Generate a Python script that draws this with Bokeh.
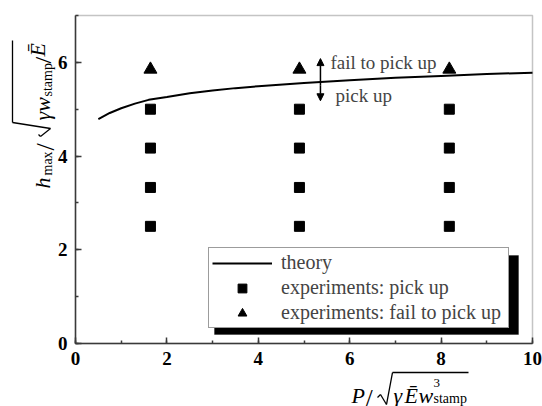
from bokeh.plotting import figure
from bokeh.models import (Label, Arrow, NormalHead, Legend, LegendItem, BoxAnnotation,
                          SingleIntervalTicker, Range1d)
from bokeh.embed import file_html
from bokeh.resources import INLINE
import math

# ---------------- data ----------------
theory_x = [0.5, 0.75, 1.0, 1.3, 1.6, 2.0, 2.5, 3.0, 3.5, 4.0, 5.0, 6.0, 7.0, 8.0, 9.0, 10.0]
theory_y = [4.79, 4.92, 5.02, 5.12, 5.20, 5.26, 5.34, 5.40, 5.45, 5.49, 5.56, 5.62, 5.67, 5.71, 5.75, 5.78]

exp_x = [1.64, 4.90, 8.18]
pick_levels = [2.50, 3.33, 4.17, 5.00]
fail_level = [5.85]

pick_x = [x for x in exp_x for _ in pick_levels]
pick_y = [y for _ in exp_x for y in pick_levels]
fail_x = list(exp_x)
fail_y = [fail_level[0] for _ in exp_x]

x_ticks = [0, 2, 4, 6, 8, 10]
y_ticks = [0, 2, 4, 6]

legend_labels = ["theory", "experiments: pick up", "experiments: fail to pick up"]

# ---------------- layout ----------------
W, H = 542, 406
FL, FR, FT, FB = 75, 532, 15, 343          # where the 0..10 x 0..7 data box sits
XMIN, XMAX, YMIN, YMAX = 0, 10, 0, 7


def px_x(px):
    return XMIN + (px - FL) / (FR - FL) * (XMAX - XMIN)


def px_y(py):
    return YMIN + (FB - py) / (FB - FT) * (YMAX - YMIN)


p = figure(width=W, height=H,
           x_range=Range1d(px_x(0), px_x(W)), y_range=Range1d(px_y(H), px_y(0)),
           output_backend="svg", toolbar_location=None,
           min_border=0, min_border_left=0, min_border_right=0,
           min_border_top=0, min_border_bottom=0)
p.background_fill_color = "white"
p.border_fill_color = "white"
p.grid.visible = False
p.outline_line_color = None

AX = "#3a3a3a"
p.xaxis.fixed_location = YMIN
p.yaxis.fixed_location = XMIN
p.xaxis.bounds = (XMIN, XMAX)
p.yaxis.bounds = (YMIN, YMAX)
for ax in (p.xaxis[0], p.yaxis[0]):
    ax.ticker = SingleIntervalTicker(interval=2, num_minor_ticks=2)
    ax.axis_line_color = AX
    ax.axis_line_width = 1.5
    ax.major_tick_line_color = AX
    ax.minor_tick_line_color = AX
    ax.major_tick_line_width = 1.5
    ax.minor_tick_line_width = 1.5
    ax.major_tick_in = 6
    ax.major_tick_out = 0
    ax.minor_tick_in = 3
    ax.minor_tick_out = 0
    ax.major_label_text_font = "Liberation Serif"
    ax.major_label_text_font_style = "bold"
    ax.major_label_text_font_size = "19px"
    ax.major_label_text_color = "black"
p.xaxis.major_label_standoff = 8
p.yaxis.major_label_standoff = 8

# box around the data area (top and right edges)
p.add_layout(BoxAnnotation(left=XMIN, right=XMAX, bottom=YMIN, top=YMAX,
                           fill_alpha=0, line_color=AX, line_width=1.5, level="underlay"))

# ---------------- data marks ----------------
r_theory = p.line(theory_x, theory_y, line_color="black", line_width=2)
r_pick = p.scatter(pick_x, pick_y, marker="square", size=10, fill_color="black", line_color="black")
r_fail = p.scatter(fail_x, fail_y, marker="triangle", size=13, fill_color="black", line_color="black")

# ---------------- annotation: double arrow ----------------
arrow_x = 5.36
for y_tip in (6.08, 5.18):
    p.add_layout(Arrow(x_start=arrow_x, y_start=5.5, x_end=arrow_x, y_end=y_tip,
                       start=None, end=NormalHead(size=7, fill_color="black", line_color="black"),
                       line_width=1.5, line_color="black"))
p.add_layout(Label(x=5.58, y=6.0, text="fail to pick up", text_font="Liberation Serif",
                   text_font_size="19px", text_baseline="middle", text_align="left"))
p.add_layout(Label(x=5.69, y=5.29, text="pick up", text_font="Liberation Serif",
                   text_font_size="19px", text_baseline="middle", text_align="left"))

# ---------------- legend with shadow ----------------
SH = 6
LG_L, LG_R, LG_T, LG_B = 208, 512, 249, 328
p.add_layout(BoxAnnotation(left=px_x(LG_L + SH), right=px_x(LG_R + SH),
                           top=px_y(LG_T + SH), bottom=px_y(LG_B + SH),
                           fill_color="black", fill_alpha=1, line_color="black"))
legend = Legend(items=[LegendItem(label=legend_labels[0], renderers=[r_theory]),
                       LegendItem(label=legend_labels[1], renderers=[r_pick]),
                       LegendItem(label=legend_labels[2], renderers=[r_fail])],
                location=(LG_L, H - LG_B),
                label_text_font="Liberation Serif", label_text_font_size="20px",
                glyph_width=60, glyph_height=22, label_height=22, label_standoff=9,
                label_width=224, padding=3, spacing=2, margin=0,
                border_line_color="#3a3a3a", border_line_width=1,
                background_fill_color="white", background_fill_alpha=1)
p.add_layout(legend)


# ---------------- axis labels (real text, hand-composed) ----------------
def lab(px, py, text, size, style="italic", angle=0.0):
    p.add_layout(Label(x=px_x(px), y=px_y(py), text=text, text_font="Liberation Serif",
                       text_font_style=style, text_font_size=f"{size}px",
                       text_align="left", text_baseline="alphabetic", angle=angle,
                       text_color="black"))


def seg(points):
    for (x0, y0), (x1, y1) in zip(points[:-1], points[1:]):
        p.add_layout(Arrow(x_start=px_x(x0), y_start=px_y(y0), x_end=px_x(x1), y_end=px_y(y1),
                           start=None, end=None, line_color="black", line_width=1.3))


# x-axis label:  P / sqrt(gamma E w^3_stamp)
lab(351, 395, "P", 22)
lab(365, 398, "/", 26, style="normal")
seg([(377, 397), (380, 394), (386, 404), (392, 372), (468, 372)])
lab(393, 395, "γ", 22)
lab(404, 395, "Ē", 22)
lab(418, 395, "w", 22)
lab(433, 382, "3", 13, style="normal")
lab(433, 398, "stamp", 14, style="normal")

# y-axis label:  h_max / sqrt(gamma w_stamp / E)  (rotated)
R = math.pi / 2
lab(42, 188, "h", 22, angle=R)
lab(47, 175, "max", 14, style="normal", angle=R)
lab(45, 150, "/", 26, style="normal", angle=R)
seg([(38, 134), (40, 136), (50, 128), (12, 122), (12, 40)])
lab(42, 120, "γw", 22, angle=R)
lab(47, 96, "stamp", 14, style="normal", angle=R)
lab(42, 63, "/", 24, style="normal", angle=R)
lab(37, 56, "Ē", 22, angle=R)

open("out.html", "w").write(file_html(p, INLINE))
